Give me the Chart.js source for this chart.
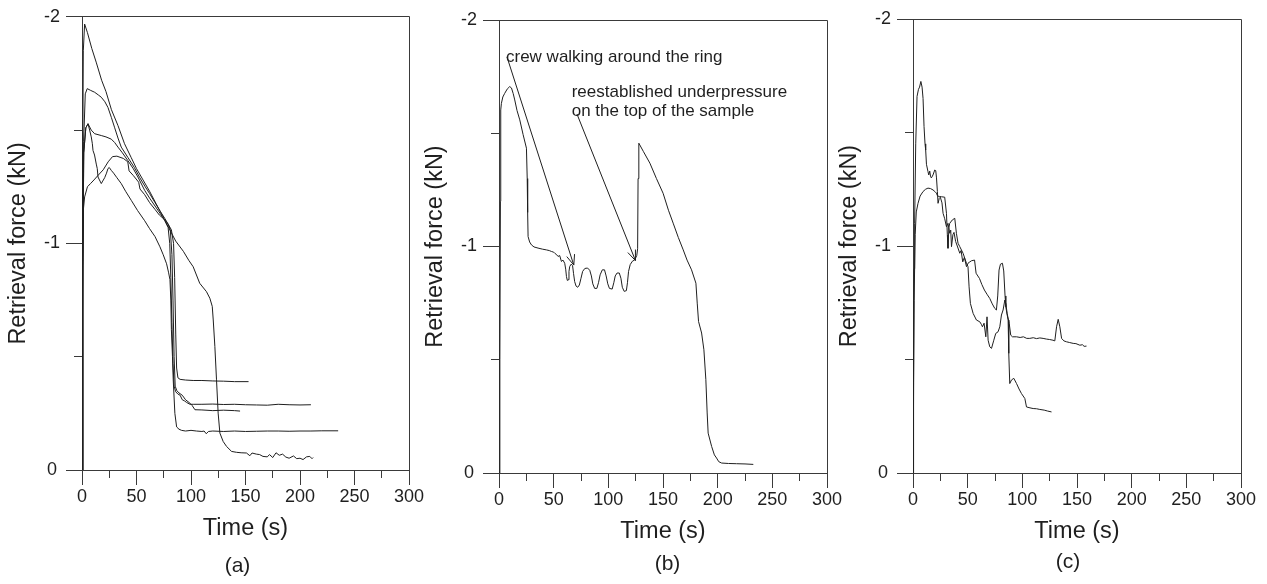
<!DOCTYPE html>
<html>
<head>
<meta charset="utf-8">
<title>Retrieval force vs time</title>
<script src="https://cdn.jsdelivr.net/npm/chart.js@4.4.1/dist/chart.umd.min.js"></script>
<style>
  html, body { margin:0; padding:0; background:#ffffff; }
  #wrap { position:relative; width:1267px; height:584px; overflow:hidden; background:#fff; }
  canvas { position:absolute; top:0; }
</style>
</head>
<body>
<div id="wrap">
  <canvas id="chartA"></canvas>
  <canvas id="chartB"></canvas>
  <canvas id="chartC"></canvas>
</div>
<script>
// ---------------- DATA (time in s, retrieval force in kN) ----------------
// Panel (a): five tests
const aT1 = [0,0.5,1.2,2.4,5,9,13,18,22,27,33,39,45,50,56,62,68,74,80,86,93,98,102,108,114.2,117.3,119.5,120.4,121.9,123.4,124.9,126.5,129.5,132.6,137.2,141.8,146,150.9,154,156,160,163,166,170,172,175,178,181,184,187,190,194,197,200,202.8,206,209,211,212];
const aF1 = [0,-1.2,-1.85,-1.968,-1.93,-1.86,-1.80,-1.72,-1.67,-1.59,-1.52,-1.44,-1.38,-1.33,-1.28,-1.23,-1.175,-1.12,-1.065,-1.01,-0.965,-0.925,-0.897,-0.824,-0.787,-0.758,-0.722,-0.662,-0.545,-0.398,-0.251,-0.163,-0.126,-0.104,-0.082,-0.078,-0.076,-0.075,-0.063,-0.075,-0.07,-0.068,-0.06,-0.058,-0.068,-0.055,-0.076,-0.065,-0.07,-0.057,-0.052,-0.062,-0.05,-0.052,-0.046,-0.058,-0.06,-0.05,-0.055];
const aT2 = [0,0.8,1.5,3,4.8,8,11.6,15,17.7,21,23.8,27,30,33,36,42,48,53,58,62,67,72,76,79,82,84,85,86,86.8,88,90,95,102,110,120,130,140,152.8];
const aF2 = [0,-0.9,-1.45,-1.66,-1.683,-1.675,-1.667,-1.655,-1.645,-1.625,-1.60,-1.555,-1.51,-1.465,-1.425,-1.38,-1.335,-1.29,-1.25,-1.22,-1.18,-1.14,-1.11,-1.085,-1.06,-1.0,-0.85,-0.6,-0.45,-0.407,-0.40,-0.397,-0.395,-0.395,-0.393,-0.392,-0.39,-0.39];
const aT3 = [0,0.8,1.6,3.5,5.5,8.5,11.6,17.7,22,26.9,30,33,37,42,47,51.3,57.5,62,67,72,76,79,80.5,81.5,82.5,83.5,84.5,86,88,90,92,94,96,99,102,110,120,130,140,150,160,170,180,190,200,210];
const aF3 = [0,-0.9,-1.4,-1.51,-1.528,-1.50,-1.484,-1.476,-1.47,-1.46,-1.445,-1.425,-1.40,-1.366,-1.33,-1.293,-1.234,-1.20,-1.165,-1.13,-1.10,-1.07,-1.0,-0.85,-0.65,-0.47,-0.37,-0.345,-0.335,-0.33,-0.31,-0.305,-0.298,-0.29,-0.29,-0.29,-0.291,-0.289,-0.29,-0.288,-0.287,-0.286,-0.29,-0.288,-0.287,-0.288];
const aT4 = [0,0.8,1.6,3.5,5.5,7,8.5,9.5,10.1,11.5,13.1,14,14.7,16,17.7,19,20.8,22.5,23.8,25,26.9,29,32,36,40,45.2,51,57.5,62,67,71.5,74.5,77.6,79.5,80.7,81.5,82,83,83.7,85.2,86.8,89,91.3,95,100,105,110,112,114,116,120,130,140,150,160,170,180,190,200,210,220,235];
const aF4 = [0,-0.9,-1.4,-1.51,-1.528,-1.50,-1.47,-1.44,-1.41,-1.39,-1.35,-1.33,-1.293,-1.28,-1.264,-1.275,-1.29,-1.31,-1.33,-1.335,-1.322,-1.31,-1.29,-1.264,-1.23,-1.19,-1.145,-1.10,-1.065,-1.03,-0.985,-0.95,-0.91,-0.87,-0.84,-0.75,-0.62,-0.5,-0.398,-0.25,-0.19,-0.18,-0.175,-0.172,-0.175,-0.172,-0.17,-0.172,-0.160,-0.17,-0.172,-0.17,-0.172,-0.17,-0.171,-0.172,-0.172,-0.171,-0.172,-0.172,-0.173,-0.173];
const aT5 = [0,0.3,1.2,2.4,5,8,11,14.7,19.5,24,28,32,37.9,42,43.2,47,52,53.2,57.5,62,67,71,75.8,79,81,82.5,83.5,84.5,85.5,87,89,92,95,99,101,103.6,110,120,130,140,145];
const aF5 = [0,-0.6,-1.146,-1.205,-1.25,-1.265,-1.28,-1.30,-1.325,-1.36,-1.383,-1.385,-1.375,-1.36,-1.32,-1.30,-1.27,-1.24,-1.215,-1.18,-1.15,-1.125,-1.105,-1.085,-1.06,-0.95,-0.75,-0.5,-0.37,-0.35,-0.34,-0.33,-0.31,-0.295,-0.285,-0.266,-0.265,-0.262,-0.264,-0.262,-0.26];

// Panel (b): one test with disturbance
const bT = [0,0.8,1.3,1.6,2.2,3.5,5.2,7.5,9.8,11.4,13,14.4,16.5,19,22,25.1,25.8,26.2,26.6,28,29.7,32,35.7,40,43.4,46,48,50,51,52.5,54,55.5,57.1,58.5,60.1,61,61.7,62.5,63.2,64,64.7,66,67.3,68.2,69.2,70.5,72,73.5,75,76.5,78.5,81,83,84.5,85.8,87.5,89.5,91,92.5,94.5,96.5,98,99.5,101,103.5,105,106.3,108,110,111.5,112.8,114.5,116.5,117.5,118.5,120,122,124.2,126,126.8,127.2,127.9,132,138,144,150.1,155,159.3,164,168.5,172,176.1,180.1,181.3,182.5,185.3,187.4,189.2,190.4,191.3,194.5,197,199,201,203.6,210,217.3,225,232.6];
const bF = [0,-0.5,-1.2,-1.603,-1.632,-1.66,-1.676,-1.695,-1.706,-1.70,-1.675,-1.647,-1.60,-1.559,-1.495,-1.434,-1.30,-1.15,-1.044,-1.02,-1.007,-0.998,-0.993,-0.988,-0.985,-0.982,-0.978,-0.975,-0.97,-0.965,-0.956,-0.96,-0.934,-0.94,-0.926,-0.90,-0.867,-0.85,-0.853,-0.89,-0.912,-0.922,-0.915,-0.88,-0.845,-0.825,-0.82,-0.83,-0.86,-0.89,-0.903,-0.905,-0.895,-0.87,-0.835,-0.815,-0.815,-0.84,-0.875,-0.897,-0.897,-0.87,-0.835,-0.815,-0.812,-0.84,-0.87,-0.883,-0.883,-0.86,-0.82,-0.802,-0.805,-0.84,-0.89,-0.92,-0.935,-0.941,-0.96,-0.99,-1.3,-1.456,-1.42,-1.368,-1.30,-1.235,-1.16,-1.103,-1.04,-0.985,-0.94,-0.897,-0.838,-0.75,-0.669,-0.618,-0.544,-0.412,-0.265,-0.176,-0.117,-0.08,-0.066,-0.05,-0.044,-0.042,-0.041,-0.04,-0.038];

// Panel (c): two tests
const cT1 = [0,0.5,1,1.5,2.5,3.7,5,6,7.2,8.3,9.2,10.1,11,11.6,12.3,13.7,14.4,15.3,16.1,16.8,18.3,19.9,20.8,21.5,22.3,22.9,24,25,26.5,27.5,29,30.6,32,33.6,34.5,35.2,36.5,37.5,39,40.5,42.8,44,45.5,47,48.9,50.3,52,53.5,56.3,57.7,60.8,63,65.3,68,70.2,72.5,74.8,76.3,77.5,78.7,80,81.8,83,84.2,84.9,86,87,87.6,88.5,90.1,92.2,94.7,97,99.2,102.3,103.8,107,109.9,113,116,120,123,126.7];
const cF1 = [0,-0.3,-0.9,-1.1,-1.45,-1.659,-1.69,-1.70,-1.725,-1.70,-1.65,-1.526,-1.45,-1.423,-1.36,-1.328,-1.313,-1.33,-1.305,-1.30,-1.313,-1.335,-1.332,-1.30,-1.24,-1.188,-1.21,-1.215,-1.19,-1.144,-1.12,-1.085,-1.10,-1.056,-1.07,-0.997,-1.05,-1.06,-1.02,-1.0,-0.968,-0.98,-0.93,-0.95,-0.909,-0.924,-0.93,-0.935,-0.938,-0.88,-0.857,-0.83,-0.806,-0.785,-0.769,-0.745,-0.725,-0.718,-0.78,-0.894,-0.92,-0.924,-0.89,-0.78,-0.732,-0.70,-0.674,-0.527,-0.394,-0.41,-0.417,-0.394,-0.37,-0.35,-0.328,-0.291,-0.287,-0.284,-0.283,-0.28,-0.277,-0.273,-0.269];
const cT2 = [0,0.5,1,2,3,4.6,6.5,9.2,11.5,13.7,16,18.3,20,21.4,22.5,24.4,26,29,30.6,31.4,32,32.8,33.6,36,38.2,39.7,41.2,42.8,45.8,48.9,50.3,51.3,52.5,55,58,61.1,62.5,63.5,65,66.6,67.7,68.7,70.2,71.8,73.9,75.7,77.8,79.4,80.9,82.4,84,85,86.1,88,89.4,91,94.7,98,101,104,106.8,110,113,116,119,122,125,128,129.7,131.3,132.8,134.3,135.9,138,140.4,143,146.5,149,152.6,155,156.5,158.7];
const cF2 = [0,-0.4,-0.76,-1.05,-1.15,-1.188,-1.22,-1.24,-1.25,-1.255,-1.253,-1.247,-1.24,-1.233,-1.22,-1.218,-1.217,-1.215,-1.144,-1.05,-0.99,-1.08,-1.10,-1.115,-1.122,-1.056,-1.012,-0.997,-0.968,-0.924,-0.909,-0.82,-0.747,-0.703,-0.674,-0.666,-0.655,-0.644,-0.66,-0.60,-0.688,-0.585,-0.556,-0.549,-0.585,-0.615,-0.622,-0.644,-0.696,-0.718,-0.762,-0.745,-0.703,-0.659,-0.607,-0.60,-0.60,-0.597,-0.6,-0.593,-0.593,-0.596,-0.592,-0.595,-0.593,-0.59,-0.588,-0.585,-0.582,-0.644,-0.677,-0.644,-0.593,-0.582,-0.578,-0.575,-0.571,-0.57,-0.563,-0.565,-0.558,-0.559];

// Axis ticks and labels
const xTickStep = 25, xLabelStep = 50, xMin = 0, xMax = 300;
const yTickStep = 0.5, yMin = -2, yMax = 0;
const xTitle = 'Time (s)';
const yTitle = 'Retrieval force (kN)';
const panelLabels = ['(a)', '(b)', '(c)'];

// Annotations of panel (b), in data units (time, force)
const noteTexts = ['crew walking around the ring', 'reestablished underpressure', 'on the top of the sample'];
const noteT = [6.4, 66.5, 66.5];
const noteF = [-1.815, -1.659, -1.576];
const arrowFromT = [7.3, 71.3];
const arrowFromF = [-1.837, -1.585];
const arrowToT = [68.4, 124.8];
const arrowToF = [-0.918, -0.938];

// ---------------- STYLE ----------------
const FONT = "'Liberation Sans', Arial, Helvetica, sans-serif";
const INK = '#1f1f1f';
const AXIS = '#3a3a3a';
const AXIS_W = 82, RIGHT_PAD = 22, XAXIS_H = 72.4, H = 584;

function alignPx(p) { return Math.round(p - 0.5) + 0.5; }
function toXY(t, f) { return t.map((v, i) => ({ x: v, y: f[i] })); }

const deco = {
  id: 'deco',
  afterDraw(chart, args, o) {
    const ctx = chart.ctx, a = chart.chartArea, xs = chart.scales.x, ys = chart.scales.y;
    ctx.save();
    ctx.strokeStyle = AXIS; ctx.lineWidth = 1;
    // frame: top and right sides of the plotting box
    ctx.beginPath();
    ctx.moveTo(alignPx(a.left), alignPx(a.top));
    ctx.lineTo(alignPx(a.right), alignPx(a.top));
    ctx.lineTo(alignPx(a.right), alignPx(a.bottom));
    ctx.stroke();
    // minor ticks
    ctx.beginPath();
    xs.ticks.forEach(t => {
      if (t.value % xLabelStep !== 0) {
        const px = alignPx(xs.getPixelForValue(t.value));
        ctx.moveTo(px, a.bottom); ctx.lineTo(px, a.bottom + 8);
      }
    });
    ys.ticks.forEach(t => {
      if (!Number.isInteger(t.value)) {
        const py = alignPx(ys.getPixelForValue(t.value));
        ctx.moveTo(a.left, py); ctx.lineTo(a.left - 8, py);
      }
    });
    ctx.stroke();
    // annotations
    if (o.notes) {
      ctx.fillStyle = INK; ctx.font = '17px ' + FONT;
      ctx.textAlign = 'left'; ctx.textBaseline = 'alphabetic';
      noteTexts.forEach((txt, i) => ctx.fillText(txt, xs.getPixelForValue(noteT[i]), ys.getPixelForValue(noteF[i])));
      ctx.strokeStyle = INK; ctx.lineWidth = 1;
      arrowFromT.forEach((_, i) => {
        const x1 = xs.getPixelForValue(arrowFromT[i]), y1 = ys.getPixelForValue(arrowFromF[i]);
        const x2 = xs.getPixelForValue(arrowToT[i]), y2 = ys.getPixelForValue(arrowToF[i]);
        const ang = Math.atan2(y2 - y1, x2 - x1), L = 11, sp = 0.38;
        ctx.beginPath();
        ctx.moveTo(x1, y1); ctx.lineTo(x2, y2);
        ctx.moveTo(x2 - L * Math.cos(ang - sp), y2 - L * Math.sin(ang - sp)); ctx.lineTo(x2, y2);
        ctx.lineTo(x2 - L * Math.cos(ang + sp), y2 - L * Math.sin(ang + sp));
        ctx.stroke();
      });
    }
    // panel label under the x title
    ctx.fillStyle = INK; ctx.font = '21px ' + FONT;
    ctx.textAlign = 'center'; ctx.textBaseline = 'alphabetic';
    ctx.fillText(o.label, (a.left + a.right) / 2 + o.labelDx, o.labelY);
    ctx.restore();
  }
};

function build(canvasId, geo, series, extra) {
  const cv = document.getElementById(canvasId);
  const canvasLeft = geo.left - AXIS_W;
  const width = geo.right - canvasLeft + RIGHT_PAD;
  cv.width = width; cv.height = H;
  cv.style.left = canvasLeft + 'px';
  cv.style.width = width + 'px'; cv.style.height = H + 'px';
  new Chart(cv, {
    type: 'scatter',
    data: {
      datasets: series.map(s => ({
        data: toXY(s[0], s[1]), showLine: true, borderColor: INK, borderWidth: 1,
        pointRadius: 0, pointHoverRadius: 0, tension: 0, fill: false
      }))
    },
    options: {
      responsive: false, animation: false, events: [],
      layout: { padding: { left: 0, top: geo.top, right: RIGHT_PAD, bottom: H - geo.bottom - XAXIS_H } },
      scales: {
        x: {
          type: 'linear', position: 'bottom', min: xMin, max: xMax,
          afterFit: s => { s.height = XAXIS_H; },
          ticks: {
            stepSize: xTickStep, autoSkip: false, maxRotation: 0, padding: 1, color: INK,
            font: { family: FONT, size: 18 },
            callback: v => (v % xLabelStep === 0 ? String(v) : '')
          },
          grid: {
            display: true, drawOnChartArea: false, drawTicks: true, tickLength: 15, tickWidth: 1,
            tickColor: c => (c.tick && c.tick.value % xLabelStep === 0 ? AXIS : 'rgba(0,0,0,0)')
          },
          border: { display: true, color: AXIS, width: 1 },
          title: { display: true, text: xTitle, color: INK, font: { family: FONT, size: 23.5 }, padding: { top: 0, bottom: 0 } }
        },
        y: {
          type: 'linear', position: 'left', min: yMin, max: yMax, reverse: true,
          afterFit: s => { s.width = AXIS_W; },
          ticks: {
            stepSize: yTickStep, autoSkip: false, padding: 6, crossAlign: 'center', color: INK,
            font: { family: FONT, size: 18 },
            callback: v => (Number.isInteger(v) ? String(v) : '')
          },
          grid: {
            display: true, drawOnChartArea: false, drawTicks: true, tickLength: 16, tickWidth: 1,
            tickColor: c => (c.tick && Number.isInteger(c.tick.value) ? AXIS : 'rgba(0,0,0,0)')
          },
          border: { display: true, color: AXIS, width: 1 },
          title: { display: true, text: yTitle, color: INK, font: { family: FONT, size: 23.5 }, padding: { top: 4, bottom: 0 } }
        }
      },
      plugins: { legend: { display: false }, tooltip: { enabled: false }, deco: extra }
    },
    plugins: [deco]
  });
}

build('chartA', { left: 82, right: 409, top: 16, bottom: 470 },
  [[aT1, aF1], [aT2, aF2], [aT3, aF3], [aT4, aF4], [aT5, aF5]],
  { label: panelLabels[0], labelDx: -8, labelY: 572 });
build('chartB', { left: 499, right: 827, top: 20, bottom: 473 },
  [[bT, bF]],
  { label: panelLabels[1], labelDx: 4.5, labelY: 569.5, notes: true });
build('chartC', { left: 913, right: 1241, top: 19, bottom: 473 },
  [[cT1, cF1], [cT2, cF2]],
  { label: panelLabels[2], labelDx: -9, labelY: 568 });
</script>
</body>
</html>
